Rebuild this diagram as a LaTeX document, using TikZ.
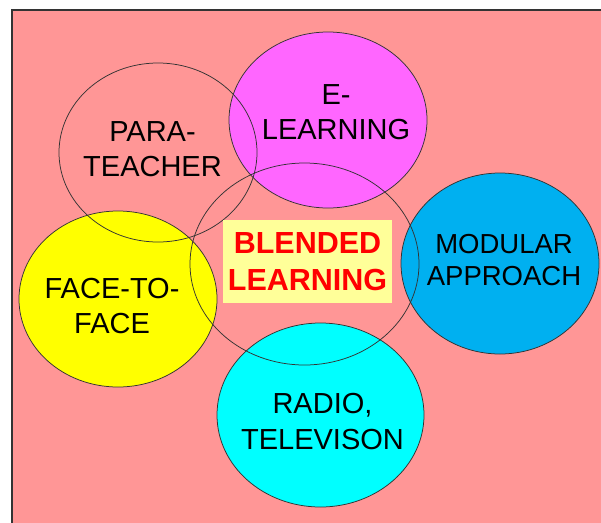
\documentclass[tikz,border=0pt]{standalone}
\usepackage{fontspec}
\setmainfont{Liberation Sans}
\usetikzlibrary{shapes.geometric}
\definecolor{bgpink}{HTML}{FF9696}
\definecolor{emag}{HTML}{FF66FF}
\definecolor{fyel}{HTML}{FFFF00}
\definecolor{rcyan}{HTML}{00FFFF}
\definecolor{mblue}{HTML}{00B0F0}
\definecolor{boxyel}{HTML}{FFFF99}
\definecolor{edge}{HTML}{333333}
\tikzset{
  bubble/.style={ellipse, draw=edge, line width=0.75pt, inner sep=0pt},
  lbl/.style={align=center, inner sep=0pt, font=\fontsize{29}{35.5}\selectfont},
}
\begin{document}
\begin{tikzpicture}[x=1pt,y=-1pt]
\useasboundingbox (0,0) rectangle (601,522);
\fill[bgpink] (12,10) rectangle (620,540);
\draw[edge, line width=1.2pt] (12,540) -- (12,10) -- (620,10);
% filled bubbles
\node[bubble, fill=emag, minimum width=198pt, minimum height=176pt] (el) at (328,120) {};
\node[bubble, fill=fyel, minimum width=198pt, minimum height=176pt] (ff) at (118,299) {};
\node[bubble, fill=rcyan, minimum width=207pt, minimum height=184pt] (rt) at (320.5,415) {};
\node[bubble, fill=mblue, minimum width=198pt, minimum height=181pt] (ma) at (500,263.5) {};
% outline bubbles
\node[bubble, minimum width=198pt, minimum height=179pt] (pt) at (158,152.5) {};
\node[bubble, minimum width=229pt, minimum height=202pt] (bl) at (304.5,264) {};
% central box
\node[fill=boxyel, minimum width=169pt, minimum height=83pt, inner sep=0pt] (box) at (307.5,261.5) {};
\node[align=center, inner sep=0pt, text=red, font=\fontsize{30.5}{37}\selectfont\bfseries] (blt) at (307.5,262) {BLENDED\\LEARNING};
% labels
\node[lbl] (elt) at (336,112) {E-\\LEARNING};
\node[lbl] (ptt) at (152.5,149) {PARA-\\TEACHER};
\node[lbl] (fft) at (112,306) {FACE-TO-\\FACE};
\node[lbl] (rtt) at (322.5,421.5) {RADIO,\\TELEVISON};
\node[lbl, font=\fontsize{27.5}{32}\selectfont] (mat) at (504,260) {MODULAR\\APPROACH};
\end{tikzpicture}
\end{document}
